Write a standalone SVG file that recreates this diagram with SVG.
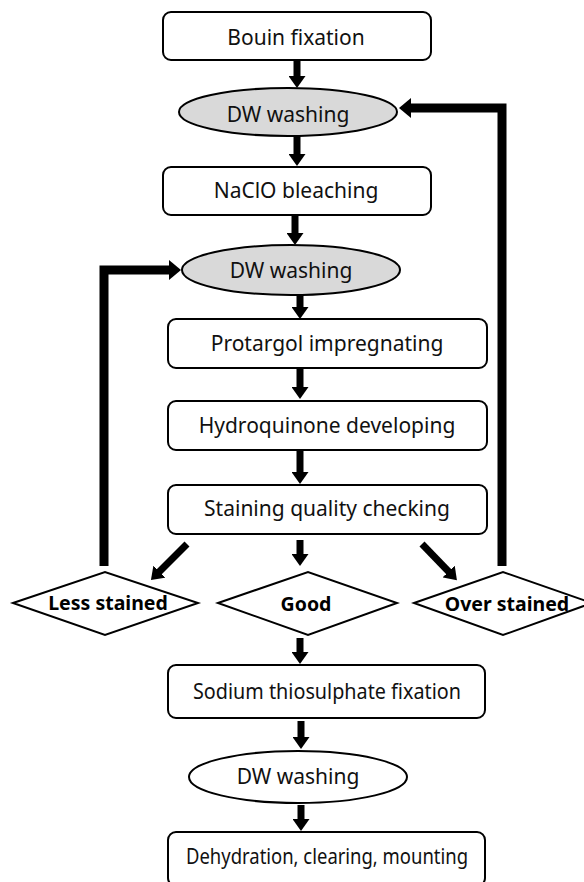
<svg xmlns="http://www.w3.org/2000/svg" width="584" height="882" viewBox="0 0 584 882">
<style>
.box{fill:#fff;stroke:#000;stroke-width:2}
.ell{stroke:#000;stroke-width:2}
.dia{fill:#fff;stroke:#000;stroke-width:2}
.t{font-family:"Noto Sans","Open Sans",sans-serif;font-size:21px;fill:#111;text-anchor:middle}
.b{font-family:"Noto Sans","Open Sans",sans-serif;font-size:19.5px;font-weight:bold;fill:#000;text-anchor:middle}
.ar{stroke:#000;stroke-width:7;fill:none;marker-end:url(#ah)}
.lp{stroke:#000;stroke-width:9;fill:none;marker-end:url(#ah2)}
</style>
<defs>
<marker id="ah" viewBox="0 0 12 17" refX="2" refY="8.5" markerWidth="12" markerHeight="17" markerUnits="userSpaceOnUse" orient="auto"><path d="M0,0 L12,8.5 L0,17 z" fill="#000"/></marker>
<marker id="ah2" viewBox="0 0 12 20" refX="2" refY="10" markerWidth="12" markerHeight="20" markerUnits="userSpaceOnUse" orient="auto"><path d="M0,0 L12,10 L0,20 z" fill="#000"/></marker>
</defs>
<rect width="584" height="882" fill="#fff"/>
<g id="connectors">
<line class="ar" x1="297" y1="61" x2="297" y2="78"/>
<line class="ar" x1="297" y1="136" x2="297" y2="156"/>
<line class="ar" x1="295" y1="216" x2="295" y2="235"/>
<line class="ar" x1="300" y1="296" x2="300" y2="309"/>
<line class="ar" x1="300" y1="369" x2="300" y2="389"/>
<line class="ar" x1="300" y1="451" x2="300" y2="474"/>
<line class="ar" x1="300" y1="540" x2="300" y2="556"/>
<line class="ar" x1="187" y1="544" x2="158" y2="573"/>
<line class="ar" x1="422" y1="544" x2="450" y2="573"/>
<line class="ar" x1="300" y1="638" x2="300" y2="654"/>
<line class="ar" x1="301" y1="721" x2="301" y2="739"/>
<line class="ar" x1="301" y1="805" x2="301" y2="821"/>
<polyline class="lp" points="104,566 104,270 171,270"/>
<polyline class="lp" points="502,566 502,108 409,108"/>
</g>
<g id="n1"><rect class="box" x="163" y="12" width="268" height="48" rx="8"/><text class="t" x="296" y="45">Bouin fixation</text></g>
<g id="n2"><ellipse class="ell" fill="#d9d9d9" cx="288" cy="112" rx="109" ry="24"/><text class="t" x="288" y="122">DW washing</text></g>
<g id="n3"><rect class="box" x="163" y="167" width="268" height="48" rx="8"/><text class="t" x="296" y="198">NaClO bleaching</text></g>
<g id="n4"><ellipse class="ell" fill="#d9d9d9" cx="291" cy="270" rx="109" ry="25"/><text class="t" x="291" y="278">DW washing</text></g>
<g id="n5"><rect class="box" x="168" y="319" width="319" height="49" rx="8"/><text class="t" x="327" y="351">Protargol impregnating</text></g>
<g id="n6"><rect class="box" x="168" y="401" width="319" height="49" rx="8"/><text class="t" x="327" y="433">Hydroquinone developing</text></g>
<g id="n7"><rect class="box" x="168" y="485" width="319" height="49" rx="8"/><text class="t" x="327" y="516">Staining quality checking</text></g>
<g id="n8"><polygon class="dia" points="13,603 105,572 198,603 105,635"/><text class="b" x="108" y="610">Less stained</text></g>
<g id="n9"><polygon class="dia" points="218,603 308,572 397,603 308,635"/><text class="b" x="306" y="611" font-size="21">Good</text></g>
<g id="n10"><polygon class="dia" points="414,603 503,572 592,603 503,635"/><text class="b" x="507" y="611">Over stained</text></g>
<g id="n11"><rect class="box" x="168" y="665" width="317" height="53" rx="8"/><text class="t" x="327" y="699" textLength="268" lengthAdjust="spacingAndGlyphs">Sodium thiosulphate fixation</text></g>
<g id="n12"><ellipse class="ell" fill="#fff" cx="298" cy="777" rx="109" ry="26"/><text class="t" x="298" y="784">DW washing</text></g>
<g id="n13"><rect class="box" x="168" y="832" width="317" height="54" rx="8"/><text class="t" x="327" y="864" textLength="282" lengthAdjust="spacingAndGlyphs">Dehydration, clearing, mounting</text></g>
</svg>
